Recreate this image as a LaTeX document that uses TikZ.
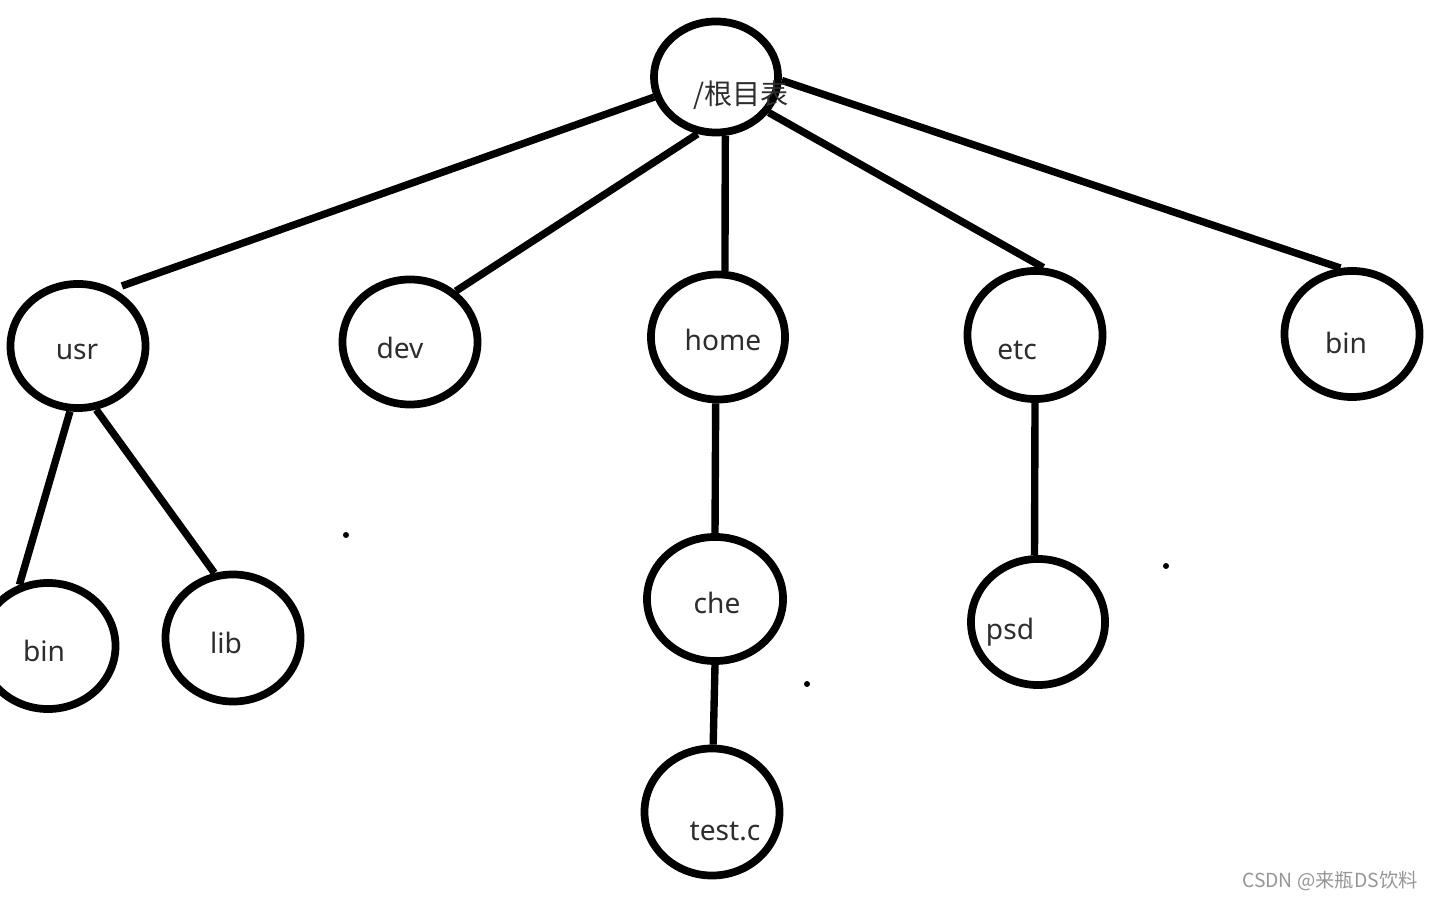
\documentclass[tikz,border=0pt]{standalone}
\usepackage{fontspec}
\setmainfont{Noto Sans}
\newfontfamily\cjk{Noto Sans CJK SC}
\usetikzlibrary{shapes.geometric}
\definecolor{txt}{RGB}{45,45,45}
\definecolor{wm}{RGB}{150,150,150}
\tikzset{
  dirnode/.style={draw=black, line width=2.2pt, ellipse, inner sep=0pt, minimum width=1.35cm, minimum height=1.25cm},
  lbl/.style={text=txt, font=\fontsize{8}{10}\selectfont, inner sep=0pt},
  edge/.style={line width=2.1pt, line cap=butt},
  speck/.style={fill=black, circle, inner sep=0pt, minimum size=0.06cm}
}
\begin{document}
\begin{tikzpicture}[x=0.01cm, y=-0.01cm]
\useasboundingbox (0,0) rectangle (1434,901);
\fill[white] (0,0) rectangle (1434,901);
% circles
\node[dirnode, minimum width=1.24cm, minimum height=1.11cm] (root) at (716,77) {};
\node[dirnode, minimum height=1.24cm] (usr) at (78,346) {};
\node[dirnode] (dev) at (410,342) {};
\node[dirnode, minimum width=1.34cm] (home) at (718,337) {};
\node[dirnode, minimum height=1.28cm] (etc) at (1035,335) {};
\node[dirnode, minimum height=1.26cm] (binr) at (1352,334) {};
\node[dirnode, minimum height=1.26cm] (binl) at (48,646) {};
\node[dirnode, minimum height=1.27cm] (lib) at (233,638) {};
\node[dirnode, minimum width=1.36cm, minimum height=1.24cm] (che) at (715,599) {};
\node[dirnode, minimum width=1.34cm, minimum height=1.26cm] (psd) at (1038,622) {};
\node[dirnode, minimum height=1.27cm] (test) at (712,812) {};
% connectors
\draw[edge, shorten >=2.5pt] (root.198) -- (usr.58);
\draw[edge] (root.252) -- (dev.48);
\draw[edge] (root.279) -- (home.84);
\draw[edge] (root.326) -- (etc.83);
\draw[edge] (root.357) -- (binr.100);
\draw[edge] (usr.263) -- (binl.115);
\draw[edge] (usr.286) -- (lib.106);
\draw[edge] (home.268) -- (che.90);
\draw[edge] (che.270) -- (test.89);
\draw[edge] (etc.270) -- (psd.93);
% labels
\node[lbl, font=\cjk\fontsize{8}{10}\selectfont] (troot) at (741,95) {/根目表};
\node[lbl] (tusr) at (77,352) {usr};
\node[lbl] (tdev) at (400,348) {dev};
\node[lbl] (thome) at (723,340) {home};
\node[lbl] (tetc) at (1017,350) {etc};
\node[lbl] (tbinr) at (1346,343) {bin};
\node[lbl] (tbinl) at (44,651) {bin};
\node[lbl] (tlib) at (226,643) {lib};
\node[lbl] (tche) at (717,603) {che};
\node[lbl] (tpsd) at (1010,632) {psd};
\node[lbl] (ttest) at (725,831) {test.c};
% specks
\node[speck] (s1) at (346,535) {};
\node[speck] (s2) at (807,684) {};
\node[speck] (s3) at (1166,566) {};
% watermark
\node[text=wm, font=\cjk\fontsize{5.5}{7}\selectfont, inner sep=0pt] (wmark) at (1330,881) {CSDN @来瓶DS饮料};
\end{tikzpicture}
\end{document}
